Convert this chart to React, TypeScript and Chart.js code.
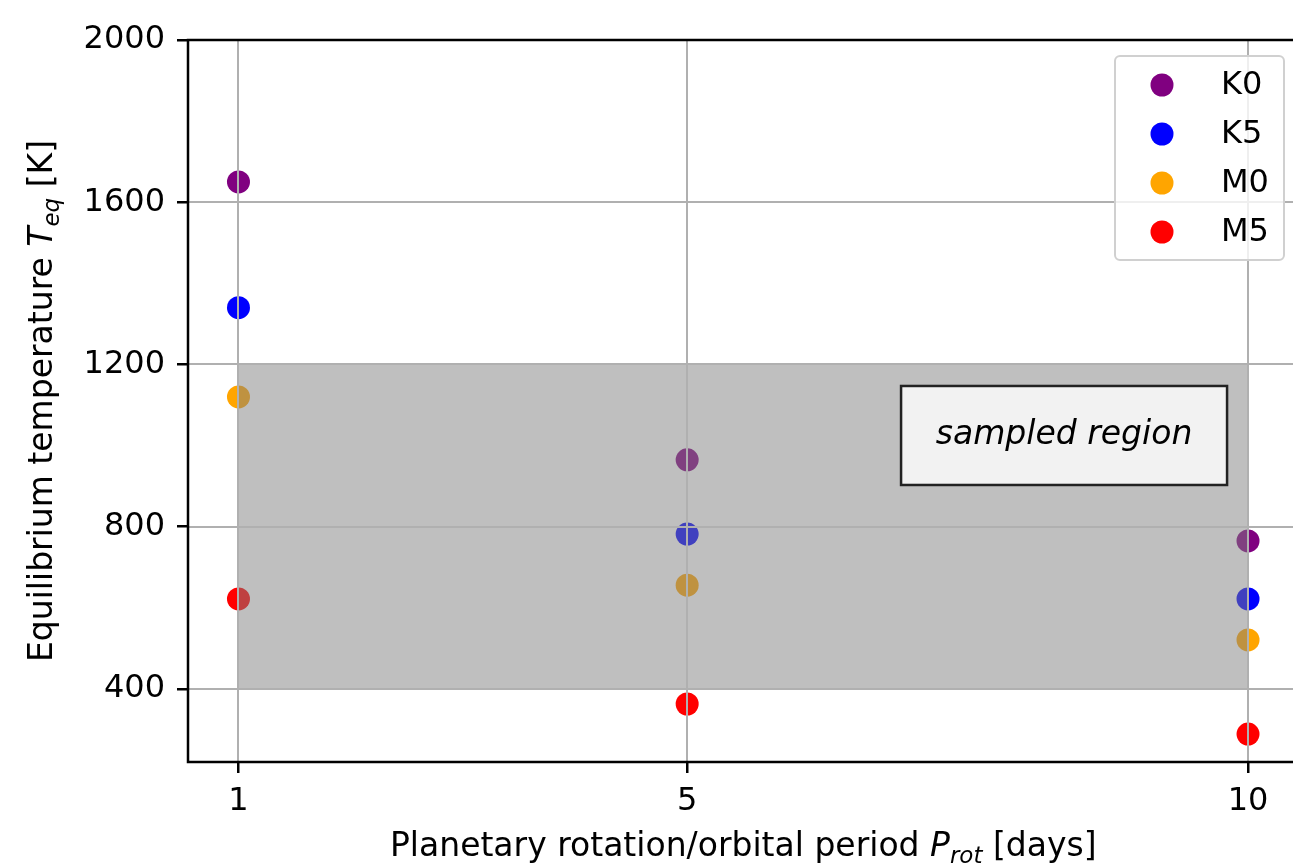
import React, { useEffect, useRef } from "react";
import { Chart, registerables } from "chart.js";

Chart.register(...registerables);

// ---- data ----
const periods = [1, 5, 10];
const seriesLabels = ["K0", "K5", "M0", "M5"];
const seriesColors = ["purple", "blue", "orange", "red"];
const tempK0 = [1650, 965, 765];
const tempK5 = [1340, 782, 622];
const tempM0 = [1120, 656, 521];
const tempM5 = [622, 363, 289];
const yTickValues = [400, 800, 1200, 1600, 2000];
const xTickValues = [1, 5, 10];
const regionX = [1, 10];
const regionY = [400, 1200];
const regionLabel = "sampled region";
const regionLabelAt = [8.36, 1025];

const FONT = '"DejaVu Sans", sans-serif';
const FS = 32;
const TFS = 33;

type Run = { text: string; italic?: boolean; sub?: boolean };

function drawRuns(ctx: CanvasRenderingContext2D, runs: Run[], cx: number, baseY: number, size: number) {
  const fontFor = (r: Run) => `${r.italic ? "italic " : ""}${r.sub ? Math.round(size * 0.7) : size}px ${FONT}`;
  let total = 0;
  const widths = runs.map((r) => {
    ctx.font = fontFor(r);
    const w = ctx.measureText(r.text).width;
    total += w;
    return w;
  });
  let x = cx - total / 2;
  ctx.textAlign = "left";
  ctx.textBaseline = "alphabetic";
  runs.forEach((r, i) => {
    ctx.font = fontFor(r);
    ctx.fillText(r.text, x, baseY + (r.sub ? size * 0.22 : 0));
    x += widths[i];
  });
}

const overlayPlugin = {
  id: "overlay",
  afterDatasetsDraw(chart: any) {
    const { ctx, chartArea } = chart;
    const xs = chart.scales.x;
    const ys = chart.scales.y;
    ctx.save();
    // shaded region
    ctx.save();
    ctx.beginPath();
    ctx.rect(chartArea.left, chartArea.top, chartArea.right - chartArea.left, chartArea.bottom - chartArea.top);
    ctx.clip();
    ctx.fillStyle = "rgba(128,128,128,0.5)";
    const rx0 = xs.getPixelForValue(regionX[0]);
    const rx1 = xs.getPixelForValue(regionX[1]);
    const ry0 = ys.getPixelForValue(regionY[1]);
    const ry1 = ys.getPixelForValue(regionY[0]);
    ctx.fillRect(rx0, ry0, rx1 - rx0, ry1 - ry0);
    // grid on top
    ctx.strokeStyle = "#b0b0b0";
    ctx.lineWidth = 2;
    yTickValues.forEach((v) => {
      const y = Math.round(ys.getPixelForValue(v));
      ctx.beginPath();
      ctx.moveTo(chartArea.left, y);
      ctx.lineTo(chartArea.right, y);
      ctx.stroke();
    });
    xTickValues.forEach((v) => {
      const x = Math.round(xs.getPixelForValue(v));
      ctx.beginPath();
      ctx.moveTo(x, chartArea.top);
      ctx.lineTo(x, chartArea.bottom);
      ctx.stroke();
    });
    ctx.restore();

    // text box
    const bx = xs.getPixelForValue(regionLabelAt[0]);
    const by = ys.getPixelForValue(regionLabelAt[1]);
    const bw = 326;
    const bh = 99;
    ctx.fillStyle = "#f2f2f2";
    ctx.fillRect(bx - bw / 2, by - bh / 2, bw, bh);
    ctx.strokeStyle = "#222";
    ctx.lineWidth = 2.5;
    ctx.strokeRect(bx - bw / 2, by - bh / 2, bw, bh);
    ctx.fillStyle = "#000";
    ctx.font = `italic ${TFS}px ${FONT}`;
    ctx.textAlign = "center";
    ctx.textBaseline = "middle";
    ctx.fillText(regionLabel, bx, by);

    // frame
    ctx.strokeStyle = "#000";
    ctx.lineWidth = 2.5;
    ctx.beginPath();
    ctx.moveTo(chartArea.right, chartArea.top);
    ctx.lineTo(chartArea.left, chartArea.top);
    ctx.lineTo(chartArea.left, chartArea.bottom);
    ctx.lineTo(chartArea.right, chartArea.bottom);
    ctx.stroke();

    // legend
    const lx = 1115, ly = 56, lw = 169, lh = 204;
    ctx.beginPath();
    ctx.roundRect(lx, ly, lw, lh, 5);
    ctx.fillStyle = "rgba(255,255,255,0.8)";
    ctx.fill();
    ctx.strokeStyle = "#d0d0d0";
    ctx.lineWidth = 2;
    ctx.stroke();
    chart.data.datasets.forEach((ds: any, i: number) => {
      const cy = 85 + i * 49;
      ctx.beginPath();
      ctx.arc(1162, cy, 11.5, 0, Math.PI * 2);
      ctx.fillStyle = ds.backgroundColor;
      ctx.fill();
      ctx.fillStyle = "#000";
      ctx.font = `${FS}px ${FONT}`;
      ctx.textAlign = "left";
      ctx.textBaseline = "middle";
      ctx.fillText(ds.label, 1221, cy + 1);
    });

    // x title
    ctx.fillStyle = "#000";
    drawRuns(
      ctx,
      [
        { text: "Planetary rotation/orbital period " },
        { text: "P", italic: true },
        { text: "rot", italic: true, sub: true },
        { text: " [days]" },
      ],
      (chartArea.left + chartArea.right) / 2,
      856,
      TFS
    );
    // y title
    ctx.save();
    ctx.translate(52, (chartArea.top + chartArea.bottom) / 2);
    ctx.rotate(-Math.PI / 2);
    drawRuns(
      ctx,
      [
        { text: "Equilibrium temperature " },
        { text: "T", italic: true },
        { text: "eq", italic: true, sub: true },
        { text: " [K]" },
      ],
      0,
      0,
      TFS
    );
    ctx.restore();
    ctx.restore();
  },
};

export default function App() {
  const ref = useRef<HTMLCanvasElement | null>(null);
  useEffect(() => {
    if (!ref.current) return;
    const series = [tempK0, tempK5, tempM0, tempM5];
    const chart = new Chart(ref.current, {
      type: "scatter",
      data: {
        datasets: series.map((vals, i) => ({
          label: seriesLabels[i],
          data: periods.map((p, j) => ({ x: p, y: vals[j] })),
          backgroundColor: seriesColors[i],
          borderWidth: 0,
          pointRadius: 11.5,
          pointHoverRadius: 11.5,
        })),
      },
      options: {
        responsive: false,
        animation: false,
        devicePixelRatio: 1,
        layout: { padding: { left: 0, top: 40, right: 9.5, bottom: 0 } },
        plugins: { legend: { display: false }, tooltip: { enabled: false } },
        scales: {
          x: {
            type: "linear",
            min: 0.55,
            max: 10.45,
            afterBuildTicks: (s: any) => {
              s.ticks = xTickValues.map((v) => ({ value: v }));
            },
            afterFit: (s: any) => {
              s.height = 105;
            },
            ticks: {
              font: { family: FONT, size: FS },
              color: "#000",
              padding: 9,
              maxRotation: 0,
              callback: (v: any) => String(v),
            },
            grid: { drawOnChartArea: false, drawTicks: true, tickLength: 11, tickColor: "#000", lineWidth: 2.5 },
            border: { display: false },
          },
          y: {
            type: "linear",
            min: 220,
            max: 2000,
            afterBuildTicks: (s: any) => {
              s.ticks = yTickValues.map((v) => ({ value: v }));
            },
            afterFit: (s: any) => {
              s.width = 188;
            },
            ticks: {
              font: { family: FONT, size: FS },
              color: "#000",
              padding: 12,
              callback: (v: any) => String(v),
            },
            grid: { drawOnChartArea: false, drawTicks: true, tickLength: 11, tickColor: "#000", lineWidth: 2.5 },
            border: { display: false },
          },
        },
      },
      plugins: [overlayPlugin],
    } as any);
    return () => chart.destroy();
  }, []);
  return (
    <div style={{ position: "fixed", left: 0, top: 0, width: 1293, height: 867, overflow: "hidden", background: "#fff" }}>
      <canvas ref={ref} width={1310} height={867} style={{ width: 1310, height: 867, display: "block" }} />
    </div>
  );
}
